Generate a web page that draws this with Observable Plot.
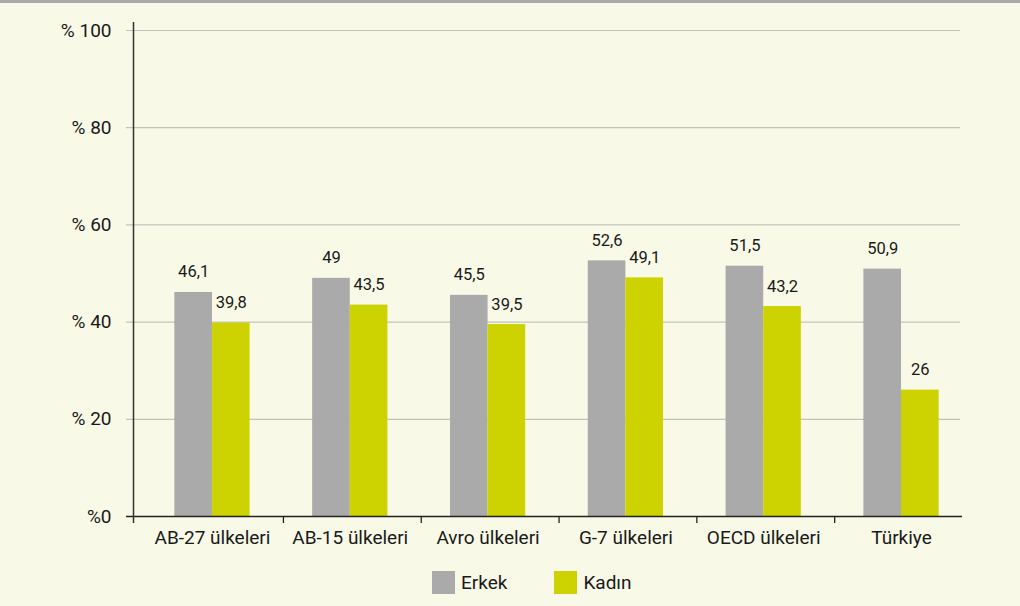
<!DOCTYPE html>
<html>
<head>
<meta charset="utf-8">
<script src="https://cdn.jsdelivr.net/npm/d3@7"></script>
<script src="https://cdn.jsdelivr.net/npm/@observablehq/plot@0.6"></script>
<style>
  html, body { margin: 0; padding: 0; }
  body { width: 1020px; height: 603px; background: #f8f9e7; border-top: 3px solid #a9a9a9; position: relative; font-family: Roboto, sans-serif; color: #1a1a1a; overflow: hidden; }
  #chart svg { display: block; }
  .legend { position: absolute; top: 568px; left: 432px; display: flex; align-items: center; font-size: 19px; }
  .item { display: flex; align-items: center; }
  .sw { width: 23px; height: 23px; margin-right: 6px; }
</style>
</head>
<body>
<div id="chart"></div>
<div class="legend">
  <div class="item"><span class="sw" style="background:#aaaaaa"></span><span>Erkek</span></div>
  <div class="item" style="margin-left:47px"><span class="sw" style="background:#ccd300"></span><span>Kadın</span></div>
</div>
<script>
const categories = ["AB-27 ülkeleri", "AB-15 ülkeleri", "Avro ülkeleri", "G-7 ülkeleri", "OECD ülkeleri", "Türkiye"];
const erkek = [46.1, 49, 45.5, 52.6, 51.5, 50.9];
const kadin = [39.8, 43.5, 39.5, 49.1, 43.2, 26];
const yTicks = [0, 20, 40, 60, 80, 100];
const seriesNames = ["Erkek", "Kadın"];
const seriesColors = ["#aaaaaa", "#ccd300"];

const barW = 0.273;
const rows = [];
categories.forEach((c, i) => {
  rows.push({cat: c, i, series: seriesNames[0], value: erkek[i], x1: i - barW, x2: i});
  rows.push({cat: c, i, series: seriesNames[1], value: kadin[i], x1: i, x2: i + barW});
});
const fmt = v => String(v).replace(".", ",");
const xMin = -0.573, xMax = 5.428;
const boundaries = [xMin, ...categories.slice(1).map((c, i) => i + 0.515)];

const chart = Plot.plot({
  width: 1020,
  height: 555,
  marginTop: 27,
  marginBottom: 42,
  marginLeft: 133,
  marginRight: 60,
  style: {fontFamily: "Roboto, sans-serif", fontSize: "19px", background: "transparent", color: "#1a1a1a", overflow: "visible"},
  x: {type: "linear", domain: [xMin, xMax], axis: null},
  y: {domain: [0, 100], axis: null},
  color: {domain: seriesNames, range: seriesColors},
  marks: [
    Plot.ruleY(yTicks.filter(d => d > 0), {stroke: "#c3c3bb", strokeWidth: 1.2, insetLeft: -7}),
    Plot.rectY(rows, {x1: "x1", x2: "x2", y: "value", fill: "series"}),
    Plot.ruleY([0], {stroke: "#222", strokeWidth: 1.6, insetLeft: -7, insetRight: -2}),
    Plot.ruleX([xMin], {y1: 100, y2: 0, stroke: "#333", strokeWidth: 1.5, insetTop: -8, insetBottom: -7}),
    Plot.ruleX(boundaries.slice(1), {y1: 0, y2: 0, stroke: "#222", strokeWidth: 1.3, insetBottom: -7}),
    Plot.text(yTicks, {y: d => d, frameAnchor: "left", textAnchor: "end", dx: -22, text: d => d === 0 ? "%0" : "% " + d, fill: "#1a1a1a"}),
    Plot.text(categories, {x: (d, i) => i, frameAnchor: "bottom", lineAnchor: "top", dy: 14, text: d => d, fill: "#1a1a1a"}),
    Plot.text(rows, {x: d => (d.x1 + d.x2) / 2, y: "value", text: d => fmt(d.value), lineAnchor: "bottom", dy: -15, fontSize: 16.5, fill: "#1a1a1a"})
  ]
});
document.getElementById("chart").appendChild(chart);
</script>
</body>
</html>
